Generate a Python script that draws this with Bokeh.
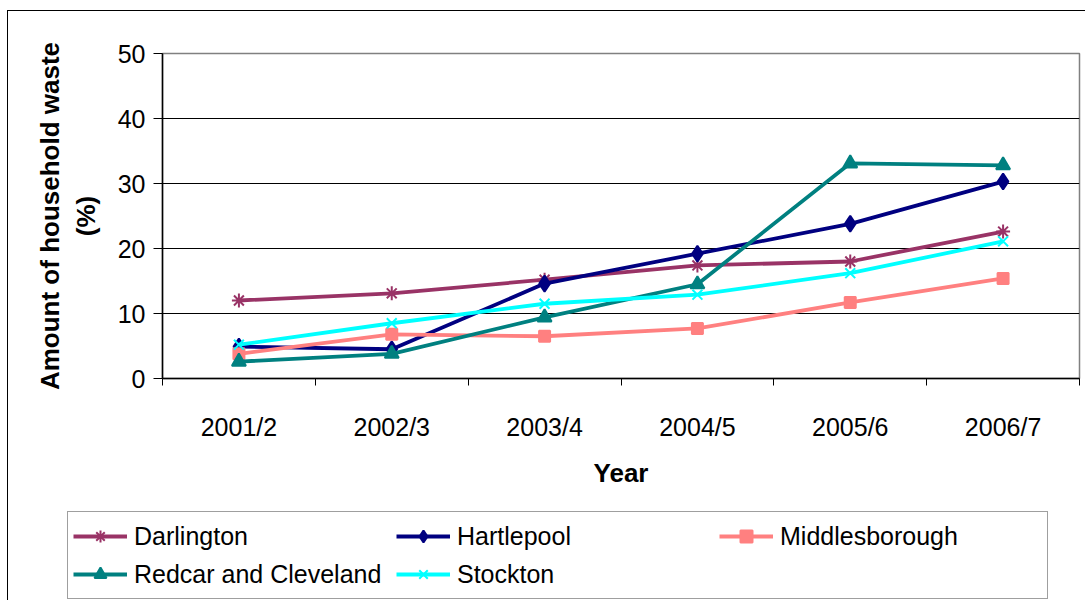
from bokeh.plotting import figure
from bokeh.layouts import column, row
from bokeh.models import FixedTicker, Legend, LegendItem, Range1d
from bokeh.embed import file_html
from bokeh.resources import INLINE

years = ["2001/2", "2002/3", "2003/4", "2004/5", "2005/6", "2006/7"]
darlington = [12.0, 13.1, 15.2, 17.4, 18.0, 22.6]
hartlepool = [4.9, 4.5, 14.6, 19.2, 23.8, 30.3]
middlesborough = [3.8, 6.8, 6.5, 7.7, 11.7, 15.4]
redcar = [2.6, 3.8, 9.4, 14.5, 33.1, 32.8]
stockton = [5.2, 8.5, 11.5, 12.9, 16.2, 21.1]
y_ticks = [0, 10, 20, 30, 40, 50]

series = [
    ("Darlington", darlington, "#993366", "asterisk", 14),
    ("Hartlepool", hartlepool, "#000080", "diamond", 16),
    ("Middlesborough", middlesborough, "#FF8080", "square", 11),
    ("Redcar and Cleveland", redcar, "#008080", "triangle", 14),
    ("Stockton", stockton, "#00FFFF", "x", 14),
]

xs = [i + 0.5 for i in range(len(years))]
FONT = "Liberation Sans"

p = figure(width=1077, height=500, output_backend="svg", toolbar_location=None,
           x_range=Range1d(0, len(years)), y_range=Range1d(0, 50),
           frame_width=917, frame_height=325,
           min_border_left=154, min_border_top=42, min_border_right=6, min_border_bottom=133)
p.background_fill_color = "white"
p.border_fill_color = "white"
p.outline_line_color = "#808080"
p.outline_line_width = 1.5

# x axis: labels at category centres, ticks at boundaries
p.xaxis.ticker = FixedTicker(ticks=xs, minor_ticks=list(range(len(years) + 1)))
p.xaxis.major_label_overrides = {x: y for x, y in zip(xs, years)}
p.xaxis.major_tick_out = 0
p.xaxis.major_tick_in = 0
p.xaxis.minor_tick_out = 7
p.xaxis.minor_tick_in = 0
p.xaxis.minor_tick_line_color = "black"
p.xaxis.axis_label = "Year"
p.xaxis.major_label_standoff = 27

p.yaxis.ticker = FixedTicker(ticks=y_ticks)
p.yaxis.minor_tick_line_color = None
p.yaxis.major_tick_out = 9
p.yaxis.major_tick_in = 0
p.yaxis.major_label_standoff = 8
p.yaxis.axis_label = "Amount of household waste\n(%)"

for ax in (p.xaxis, p.yaxis):
    ax.axis_line_color = "black"
    ax.axis_line_width = 1.5
    ax.major_tick_line_color = "black"
    ax.major_label_text_font = FONT
    ax.major_label_text_font_size = "25px"
    ax.major_label_text_color = "black"
    ax.axis_label_text_font = FONT
    ax.axis_label_text_font_size = "26px"
    ax.axis_label_text_font_style = "bold"
    ax.axis_label_text_color = "black"
p.xaxis.axis_label_standoff = 14
p.yaxis.axis_label_standoff = 14

p.xgrid.grid_line_color = None
p.ygrid.ticker = FixedTicker(ticks=y_ticks)
p.ygrid.grid_line_color = "black"
p.ygrid.grid_line_width = 1

# legend panel: a second figure whose frame is the whole panel
q = figure(width=1077, height=89, output_backend="svg", toolbar_location=None,
           x_range=Range1d(100, 101), y_range=Range1d(100, 101),
           x_axis_type=None, y_axis_type=None,
           min_border_left=0, min_border_right=0, min_border_top=0, min_border_bottom=0)
q.outline_line_color = None
q.grid.visible = False
q.background_fill_color = "white"
q.border_fill_color = "white"

items = []
for name, vals, color, marker, size in series:
    p.line(xs, vals, line_color=color, line_width=3.8)
    p.scatter(xs, vals, marker=marker, size=size, fill_color=color,
              line_color=color, line_width=2)
    r1 = q.line(xs, vals, line_color=color, line_width=3.8)
    r2 = q.scatter(xs, vals, marker=marker, size=size, fill_color=color,
                   line_color=color, line_width=2)
    items.append(LegendItem(label=name, renderers=[r1, r2]))

legend = Legend(items=items, location=(59, 1), orientation="horizontal", ncols=3)
legend.label_text_font = FONT
legend.label_text_font_size = "25px"
legend.label_text_color = "black"
legend.glyph_width = 54
legend.glyph_height = 30
legend.label_standoff = 7
legend.label_width = 262
legend.label_height = 38
legend.spacing = 0
legend.padding = 5
legend.margin = 0
legend.border_line_color = "#404040"
legend.border_line_width = 1.5
legend.background_fill_alpha = 1
q.add_layout(legend, "center")

layout = column(p, row(q), spacing=0)
layout.styles = {"border-left": "1px solid black", "border-top": "1px solid black",
                 "margin-left": "7px", "margin-top": "10px"}

open("out.html", "w").write(file_html(layout, INLINE))
